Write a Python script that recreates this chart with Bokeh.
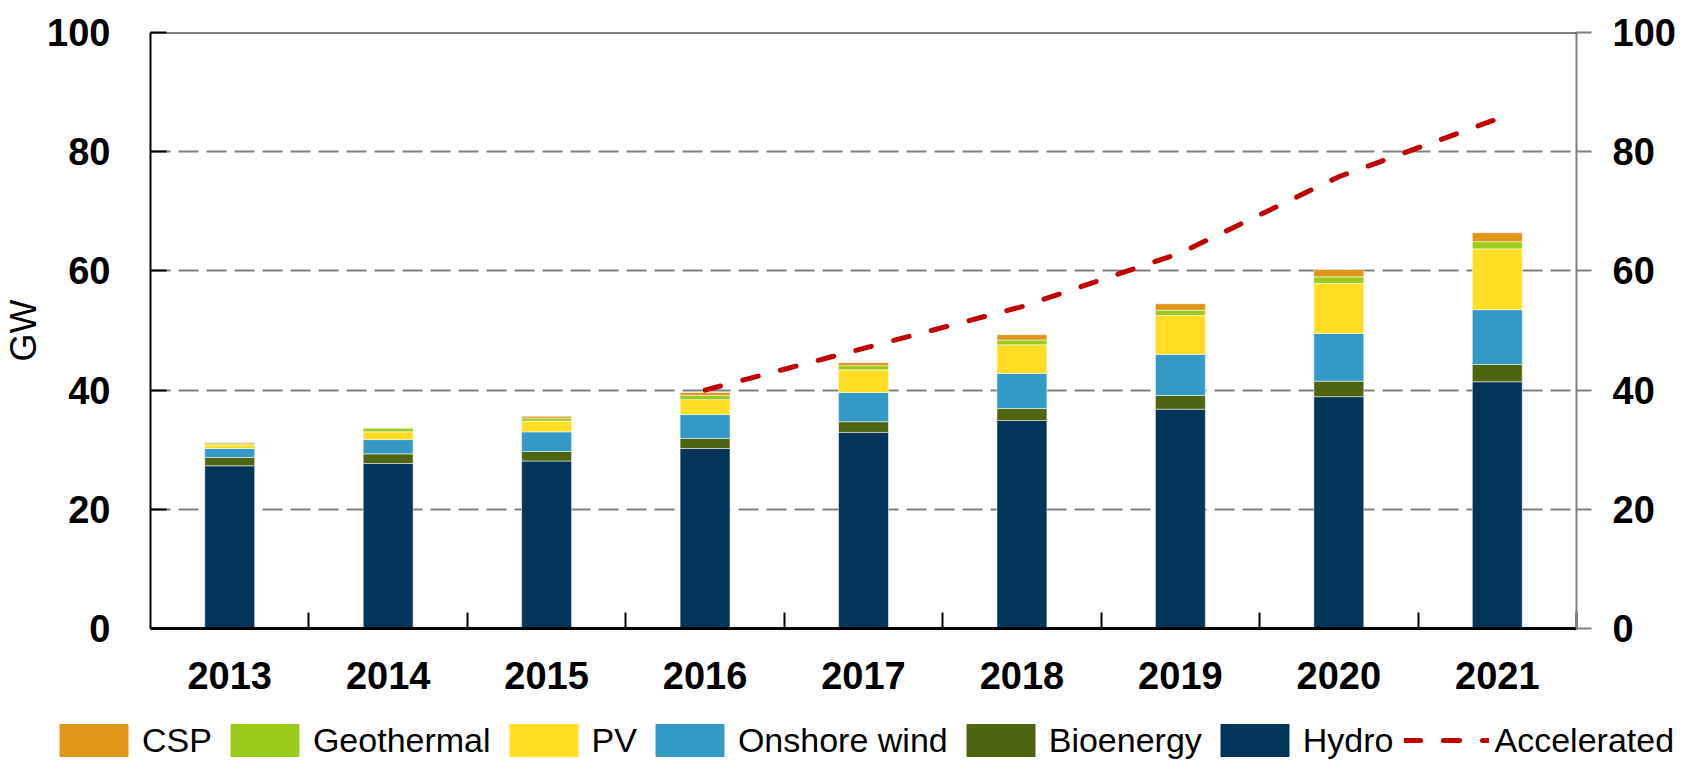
from bokeh.plotting import figure
from bokeh.models import (Range1d, LinearAxis, FixedTicker, Legend, LegendItem,
                          ColumnDataSource, Span)
from bokeh.embed import file_html
from bokeh.resources import INLINE

# ---- data (GW) ----
years = ["2013", "2014", "2015", "2016", "2017", "2018", "2019", "2020", "2021"]
hydro = [27.3, 27.7, 28.1, 30.2, 32.9, 34.9, 36.8, 38.9, 41.4]
bioenergy = [1.4, 1.6, 1.6, 1.7, 1.8, 2.0, 2.3, 2.6, 2.9]
onshore_wind = [1.5, 2.4, 3.3, 4.0, 4.9, 5.9, 6.9, 8.0, 9.2]
pv = [0.6, 1.3, 1.8, 2.5, 3.8, 4.8, 6.5, 8.4, 10.2]
geothermal = [0.2, 0.6, 0.5, 0.7, 0.7, 0.8, 0.9, 1.1, 1.2]
csp = [0.2, 0.1, 0.3, 0.5, 0.5, 0.9, 1.1, 1.25, 1.5]
acc_years = ["2016", "2017", "2018", "2019", "2020", "2021"]
accelerated = [40, 47, 54, 63, 75.8, 85.5]
y_ticks = [0, 20, 40, 60, 80, 100]

FONT = "Liberation Sans"

colors = {
    "Hydro": "#033459",
    "Bioenergy": "#4E6410",
    "Onshore wind": "#3499C4",
    "PV": "#FEDD23",
    "Geothermal": "#9BCB1B",
    "CSP": "#E0961A",
}
ACC_COLOR = "#C00000"

x_pos = [years.index(y) + 0.5 for y in years]
acc_x = [years.index(y) + 0.5 for y in acc_years]
src = ColumnDataSource(dict(x=x_pos, Hydro=hydro, Bioenergy=bioenergy,
                            **{"Onshore wind": onshore_wind}, PV=pv,
                            Geothermal=geothermal, CSP=csp))
stack = ["Hydro", "Bioenergy", "Onshore wind", "PV", "Geothermal", "CSP"]

p = figure(width=1685, height=708, output_backend="svg", toolbar_location=None,
           x_range=Range1d(0, len(years)), y_range=Range1d(0, 100),
           min_border_left=149, min_border_right=109, min_border_top=32,
           min_border_bottom=80, outline_line_color=None,
           background_fill_color="white", border_fill_color="white")

p.vbar_stack(stack, x="x", width=0.315, source=src,
             color=[colors[s] for s in stack],
             line_color="white", line_alpha=0.5, line_width=1)
p.line(acc_x, accelerated, line_color=ACC_COLOR, line_width=5,
       line_dash="16 23", line_cap="round")

# top border
p.add_layout(Span(location=100, dimension="width", line_color="black", line_width=2))

# grid
p.xgrid.visible = False
p.ygrid.ticker = FixedTicker(ticks=y_ticks)
p.ygrid.grid_line_color = "#808080"
p.ygrid.grid_line_width = 2
p.ygrid.grid_line_dash = "20 8"

# bottom axis
xa = p.xaxis[0]
xa.ticker = FixedTicker(ticks=x_pos, minor_ticks=list(range(1, len(years) + 1)))
xa.major_label_overrides = {x: y for x, y in zip(x_pos, years)}
xa.major_tick_in = 0
xa.major_tick_out = 0
xa.minor_tick_in = 16
xa.minor_tick_out = 0
xa.minor_tick_line_color = "black"
xa.minor_tick_line_width = 2
xa.axis_line_color = "black"
xa.axis_line_width = 3
xa.major_label_text_font = FONT
xa.major_label_text_font_size = "38px"
xa.major_label_text_font_style = "bold"
xa.major_label_text_color = "black"
xa.major_label_standoff = 33

# left axis
ya = p.yaxis[0]
ya.ticker = FixedTicker(ticks=y_ticks)
ya.major_tick_in = 16
ya.major_tick_out = 0
ya.major_tick_line_color = "black"
ya.major_tick_line_width = 2
ya.minor_tick_line_color = None
ya.axis_line_color = "black"
ya.axis_line_width = 2
ya.major_label_text_font = FONT
ya.major_label_text_font_size = "38px"
ya.major_label_text_font_style = "bold"
ya.major_label_text_color = "black"
ya.major_label_standoff = 40
ya.axis_label = "GW"
ya.axis_label_text_font = FONT
ya.axis_label_text_font_size = "36px"
ya.axis_label_text_font_style = "normal"
ya.axis_label_text_color = "black"
ya.axis_label_standoff = 0

# right axis
ra = LinearAxis(ticker=FixedTicker(ticks=y_ticks))
ra.major_tick_in = 0
ra.major_tick_out = 15
ra.major_tick_line_color = "#808080"
ra.major_tick_line_width = 2
ra.minor_tick_line_color = None
ra.axis_line_color = "#808080"
ra.axis_line_width = 2
ra.major_label_text_font = FONT
ra.major_label_text_font_size = "38px"
ra.major_label_text_font_style = "bold"
ra.major_label_text_color = "black"
ra.major_label_standoff = 21
p.add_layout(ra, "right")

# ---- legend strip below the chart (same data, drawn off-view) ----
lg = figure(width=1685, height=57, output_backend="svg", toolbar_location=None,
            x_range=Range1d(1000, 1001), y_range=Range1d(1000, 1001),
            x_axis_location=None, y_axis_location=None, min_border=0,
            outline_line_color=None, background_fill_color="white",
            border_fill_color="white")
lg.xgrid.visible = False
lg.ygrid.visible = False
lrs = lg.vbar_stack(stack, x="x", width=0.315, source=src,
                    color=[colors[s] for s in stack])
lmap = dict(zip(stack, lrs))
l_acc = lg.line(acc_x, accelerated, line_color=ACC_COLOR, line_width=5,
                line_dash="16 23", line_cap="round")

order = ["CSP", "Geothermal", "PV", "Onshore wind", "Bioenergy", "Hydro"]
items = [LegendItem(label=n, renderers=[lmap[n]]) for n in order]
items.append(LegendItem(label="Accelerated", renderers=[l_acc]))

legend = Legend(items=items, orientation="horizontal", location=(51, 5),
                glyph_width=85, glyph_height=40, label_standoff=6, spacing=10,
                padding=0, margin=0, border_line_color=None,
                background_fill_alpha=0, label_text_font=FONT,
                label_text_font_size="34px", label_text_color="black")
lg.add_layout(legend)

open("out.html", "w").write(file_html([p, lg], INLINE))
